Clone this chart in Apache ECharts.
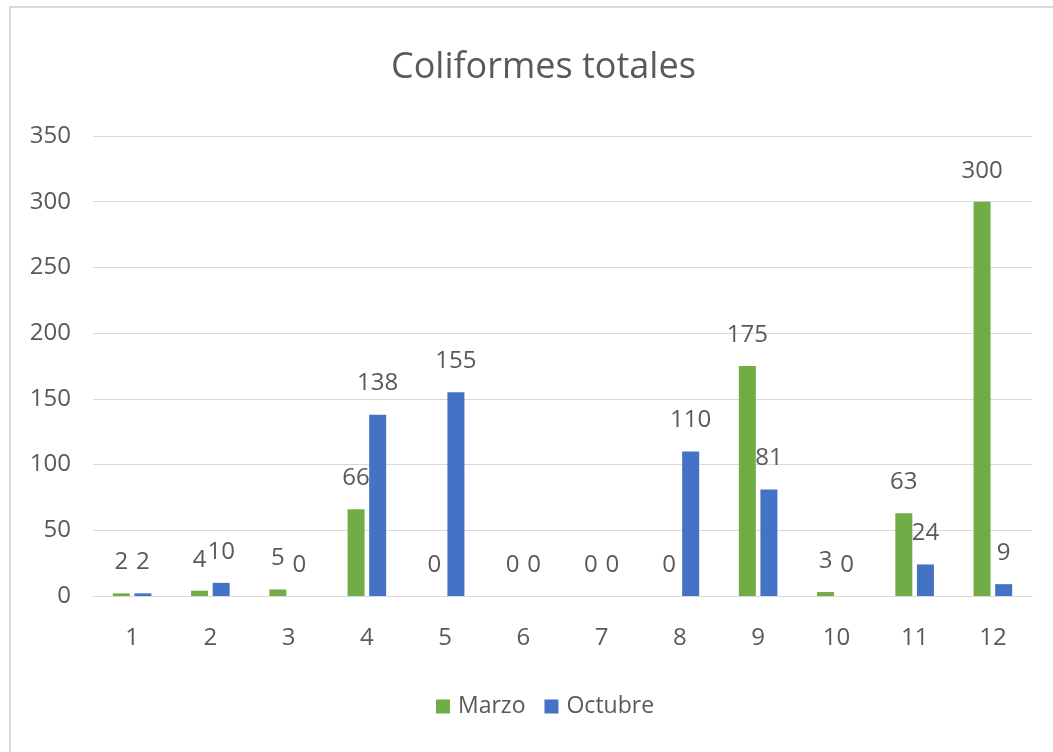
<!DOCTYPE html>
<html><head><meta charset="utf-8">
<script src="https://cdn.jsdelivr.net/npm/echarts@6/dist/echarts.min.js"></script>
<style>
html,body{margin:0;padding:0;background:#fff;}
#frame{position:absolute;left:9px;top:6px;width:1100px;height:800px;border:2px solid #d9d9d9;box-sizing:border-box;}
#c{position:absolute;left:0;top:0;width:1053px;height:752px;}
</style></head>
<body><div id="frame"></div><div id="c"></div>
<script>
const categories = ['1','2','3','4','5','6','7','8','9','10','11','12'];
const marzo = [2,4,5,66,0,0,0,0,175,3,63,300];
const octubre = [2,10,0,138,155,0,0,110,81,0,24,9];
const FONT = 'Open Sans';
const TXT = '#595959';
const chart = echarts.init(document.getElementById('c'));
const lbl = {show:true, position:'top', distance:19, color:TXT, fontSize:24, fontFamily:FONT};
chart.setOption({
  backgroundColor:'transparent',
  animation:false,
  title:{text:'Coliformes totales', left:386, top:45, textStyle:{fontFamily:FONT, fontSize:36, fontWeight:'normal', color:TXT}},
  grid:{left:93, right:21, top:136, bottom:156},
  legend:{top:690, left:431, itemWidth:14, itemHeight:14, itemGap:19, icon:'rect',
    textStyle:{fontFamily:FONT, fontSize:23, color:TXT, padding:[0,0,0,3]}},
  xAxis:{type:'category', data:categories,
    axisLine:{lineStyle:{color:'#d9d9d9'}}, axisTick:{show:false},
    axisLabel:{color:TXT, fontSize:24, fontFamily:FONT, margin:30}},
  yAxis:{type:'value', min:0, max:350, interval:50,
    axisLine:{show:false}, axisTick:{show:false},
    splitLine:{lineStyle:{color:'#d9d9d9'}},
    axisLabel:{color:TXT, fontSize:24, fontFamily:FONT, margin:22}},
  series:[
    {name:'Marzo', type:'bar', data:marzo, barWidth:17, barGap:'27%', itemStyle:{color:'#70AD47'}, label:lbl},
    {name:'Octubre', type:'bar', data:octubre, barWidth:17, barGap:'27%', itemStyle:{color:'#4472C4'}, label:lbl}
  ]
});
</script></body></html>
